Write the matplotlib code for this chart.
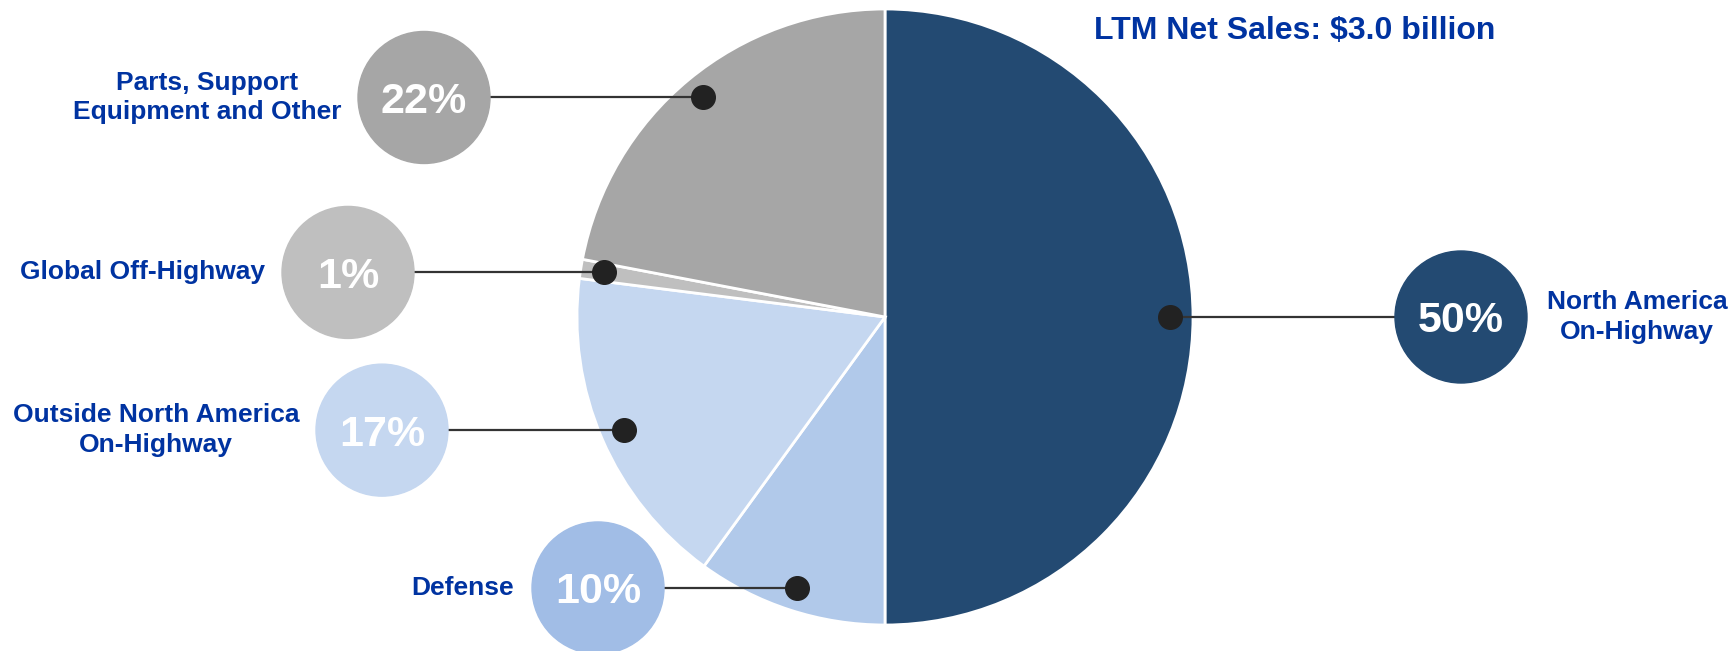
import numpy as np
import matplotlib
matplotlib.use("Agg")
import matplotlib.pyplot as plt
from matplotlib.patches import Ellipse

# 売上構成データ
segments = ["North America\nOn-Highway", "Defense", "Outside North America\nOn-Highway",
            "Global Off-Highway", "Parts, Support\nEquipment and Other"]
shares = [50, 10, 17, 1, 22]
pct_labels = ["50%", "10%", "17%", "1%", "22%"]
title = "LTM Net Sales: $3.0 billion"

# 色
slice_colors = ["#234A72", "#B1C9EA", "#C5D7F0", "#BFBFBF", "#A6A6A6"]
bubble_colors = ["#234A72", "#A1BDE6", "#C5D7F0", "#BFBFBF", "#A6A6A6"]
text_blue = "#0033A1"

W, H = 1733, 651
plt.rcParams['font.family'] = ['Liberation Sans', 'DejaVu Sans']

fig = plt.figure(figsize=(W / 100, H / 100), dpi=100)
ax = fig.add_axes([0, 0, 1, 1])

# 円グラフ
cx, cy, R = 885, H - 317, 308
ax.pie(shares, colors=slice_colors, startangle=90, counterclock=False,
       center=(cx, cy), radius=R,
       wedgeprops=dict(edgecolor="white", linewidth=2))

# バブルとラベルの位置 (x座標)
bubble_x = [1461, 598, 382, 348, 424]
bubble_d = 132
label_x = [1637, 463, 156, 143, 207]
pct_size = 31
cap_half = 0.716 * pct_size * 100 / 72 / 2  # 数字の高さの半分 (px)

cum = np.cumsum(shares) - np.array(shares) / 2
for i in range(len(shares)):
    ang = np.deg2rad(90 - 360 * cum[i] / 100)
    dx = cx + 0.925 * R * np.cos(ang)
    dy = cy + 0.925 * R * np.sin(ang)
    bx = bubble_x[i]
    # 引き出し線
    edge = bx + bubble_d / 2 if bx < dx else bx - bubble_d / 2
    ax.plot([edge, dx], [dy, dy], color="#333333", lw=1.6, zorder=3,
            solid_capstyle="butt")
    ax.plot(dx, dy, "o", color="#222222", ms=17, zorder=4)
    # バブル
    ax.add_patch(Ellipse((bx, dy), bubble_d, bubble_d,
                         color=bubble_colors[i], zorder=3))
    ax.text(bx, dy - cap_half, pct_labels[i], color="white", fontsize=pct_size,
            fontweight="bold", ha="center", va="baseline", zorder=5)
    ax.text(label_x[i], dy, segments[i], color=text_blue, fontsize=19,
            fontweight="bold", ha="center", va="center",
            multialignment="center", linespacing=1.28, zorder=5)

ax.text(1295, H - 31, title, color=text_blue, fontsize=23,
        fontweight="bold", ha="center", va="center")

ax.set_xlim(0, W)
ax.set_ylim(0, H)
ax.set_aspect("equal")
ax.axis("off")

fig.savefig("out.png", dpi=100)
